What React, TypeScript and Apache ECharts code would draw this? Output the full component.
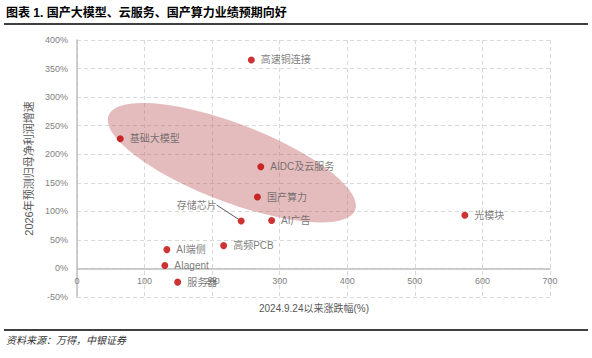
import React, { useEffect, useRef } from "react";
import * as echarts from "echarts";

const names = ["高速铜连接", "基础大模型", "AIDC及云服务", "国产算力", "存储芯片", "AI广告", "光模块", "高频PCB", "AI端侧", "AIagent", "服务器"];
const xVals = [258, 64, 272, 267, 243, 288, 574, 217, 133, 130, 149];
const yVals = [365, 227, 178, 125, 83, 84, 93, 40, 33, 5, -24];
const xTicks = [0, 100, 200, 300, 400, 500, 600, 700];
const yTicks = [-50, 0, 50, 100, 150, 200, 250, 300, 350, 400];
const ellipseCenter = [229, 185];
const xAxisName = "2024.9.24以来涨跌幅(%)";

const FONT = "'Liberation Sans', 'Noto Sans CJK SC', sans-serif";
const W = 592;
const H = 358;
const GRID = { left: 77, right: 42, top: 40, bottom: 61 };

export default function App() {
  const ref = useRef<HTMLDivElement>(null);
  useEffect(() => {
    if (!ref.current) return;
    const chart = echarts.init(ref.current, undefined, { renderer: "svg" });
    const leaderIdx = names.indexOf("存储芯片");
    const scatterData = names.map((n, i) => {
      const item: any = { name: n, value: [xVals[i], yVals[i]] };
      if (i === leaderIdx) {
        item.labelLine = { show: true, lineStyle: { color: "#595959", width: 1 } };
      }
      return item;
    });
    const yMin = yTicks[0];
    const yMax = yTicks[yTicks.length - 1];
    const gridH = H - GRID.top - GRID.bottom;
    const zeroOffset = -(gridH * (0 - yMin)) / (yMax - yMin);
    chart.setOption({
      animation: false,
      textStyle: { fontFamily: FONT },
      grid: GRID,
      xAxis: {
        type: "value",
        min: xTicks[0],
        max: xTicks[xTicks.length - 1],
        interval: 100,
        offset: zeroOffset,
        axisLine: { show: true, onZero: false, lineStyle: { color: "#BFBFBF", width: 1.5 } },
        axisTick: { show: false },
        axisLabel: { color: "#7F7F7F", fontSize: 9, margin: 8 },
        splitLine: { show: true, lineStyle: { color: "#D9D9D9", type: [4, 3] } },
      },
      yAxis: {
        type: "value",
        min: yMin,
        max: yMax,
        interval: 50,
        axisLine: { show: true, onZero: false, lineStyle: { color: "#BFBFBF", width: 1.5 } },
        axisTick: { show: false },
        axisLabel: { color: "#7F7F7F", fontSize: 9, margin: 9, formatter: (v: number) => v + "%" },
        splitLine: { show: true, lineStyle: { color: "#D9D9D9", type: [4, 3] } },
        name: "2026年预测归母净利润增速",
        nameLocation: "middle",
        nameGap: 35,
        nameRotate: 90,
        nameTextStyle: { color: "#595959", fontSize: 11 },
      },
      graphic: [
        {
          type: "text",
          left: 6,
          top: 7,
          style: { text: "图表 1. 国产大模型、云服务、国产算力业绩预期向好", fontSize: 12, fontWeight: "bold", fill: "#000", fontFamily: FONT },
        },
        { type: "line", shape: { x1: 4, y1: 24, x2: 588, y2: 24 }, style: { stroke: "#000", lineWidth: 1.5 } },
        {
          type: "text",
          x: 314,
          y: 308,
          style: { text: xAxisName, fontSize: 10, fill: "#595959", fontFamily: FONT, align: "center", verticalAlign: "middle" },
        },
        { type: "line", shape: { x1: 4, y1: 330, x2: 588, y2: 330 }, style: { stroke: "#000", lineWidth: 1.5 } },
        {
          type: "text",
          left: 6,
          top: 335,
          style: { text: "资料来源：万得，中银证券", fontSize: 10, fontStyle: "italic", fill: "#333", fontFamily: FONT },
        },
      ],
      series: [
        {
          type: "custom",
          z: 1,
          silent: true,
          data: [ellipseCenter],
          renderItem: (params: any, api: any) => {
            const c = api.coord([api.value(0), api.value(1)]);
            return {
              type: "ellipse",
              shape: { cx: c[0], cy: c[1], rx: 132, ry: 39 },
              rotation: (-21 * Math.PI) / 180,
              originX: c[0],
              originY: c[1],
              style: { fill: "rgba(190,95,100,0.42)" },
            };
          },
        },
        {
          type: "scatter",
          z: 3,
          symbolSize: 7,
          itemStyle: { color: "#C00000" },
          data: scatterData,
          label: {
            show: true,
            position: "right",
            distance: 6,
            formatter: (p: any) => p.name,
            color: "#595959",
            fontSize: 10,
            fontFamily: FONT,
          },
          labelLayout: (p: any) => {
            if (p.dataIndex === leaderIdx) {
              return { dx: -74, dy: -16 };
            }
            return {};
          },
        },
      ],
    });
    return () => chart.dispose();
  }, []);
  return (
    <div style={{ position: "fixed", left: 0, top: 0, width: W, height: H, background: "#fff" }}>
      <div ref={ref} style={{ width: W, height: H }} />
    </div>
  );
}
